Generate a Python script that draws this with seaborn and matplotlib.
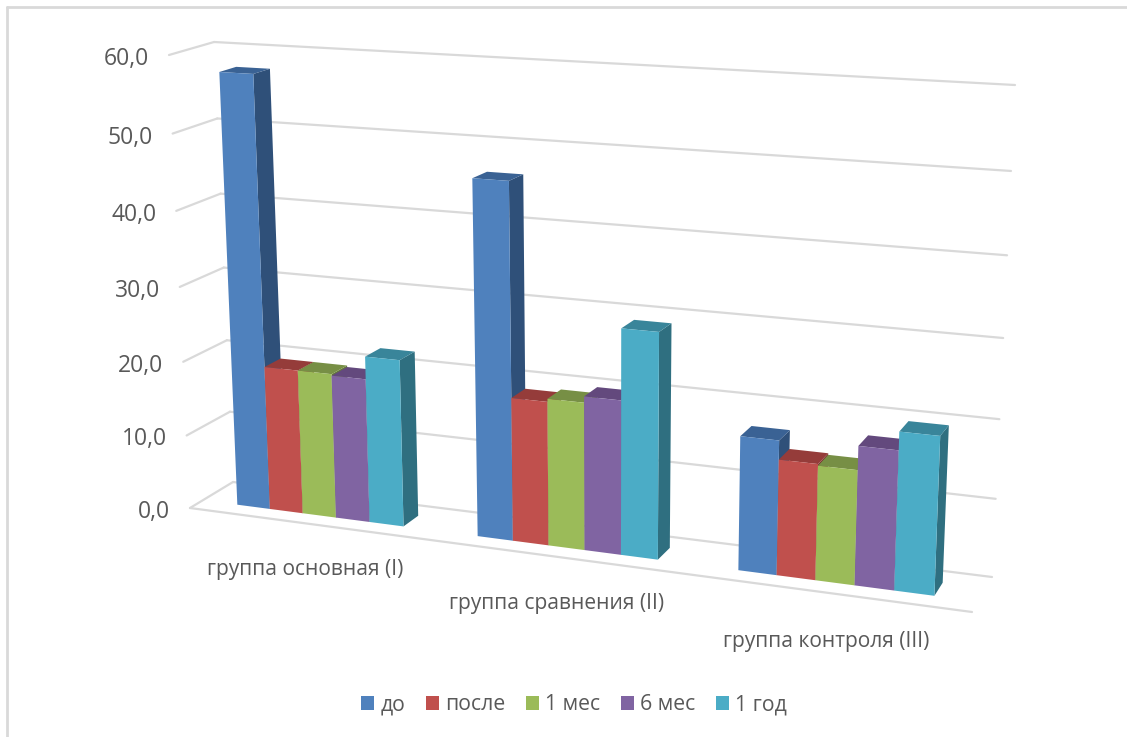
import numpy as np
import pandas as pd
import matplotlib
matplotlib.use("Agg")
import matplotlib.pyplot as plt
from matplotlib.lines import Line2D
from matplotlib.patches import Polygon, Rectangle
from matplotlib.transforms import Affine2D, Transform
import seaborn as sns

groups = ["группа основная (I)", "группа сравнения (II)", "группа контроля (III)"]
periods = ["до", "после", "1 мес", "6 мес", "1 год"]
values_do = [57.6, 46.3, 17.1]
values_posle = [19.4, 18.8, 14.7]
values_1m = [19.4, 19.2, 14.5]
values_6m = [19.2, 20.0, 17.5]
values_1y = [22.2, 29.1, 19.8]
yticks = [0, 10, 20, 30, 40, 50, 60]

front_colors = ["#4F81BD", "#C0504D", "#9BBB59", "#8064A2", "#4BACC6"]
side_colors = ["#2F5079", "#7C3230", "#64793A", "#523F69", "#2F6F80"]
top_colors = ["#3A6294", "#953C3A", "#778F45", "#63497D", "#39859A"]
GRID = "#D9D9D9"
TEXT = "#595959"
W, H = 1127, 737

plt.rcParams["font.family"] = ["Open Sans", "DejaVu Sans"]
sns.set_theme(style="white", rc={"font.family": ["Open Sans", "DejaVu Sans"]})

# Corner positions of the two box walls: (category axis start/end, value 0/60)
CORNERS_FRONT = [(190, 508), (972, 612), (169, 55), (992, 100)]
CORNERS_BACK = [(233, 482), (992, 577), (214, 42), (1015, 85)]
XSPAN = (-0.5, 2.5)
YSPAN = (0, 60)
BAR_FRONT, BAR_BACK = 0.30, 0.68


def homography(corners):
    src = [(XSPAN[0], YSPAN[0]), (XSPAN[1], YSPAN[0]), (XSPAN[0], YSPAN[1]), (XSPAN[1], YSPAN[1])]
    A, b = [], []
    for (x, y), (u, v) in zip(src, corners):
        A.append([x, y, 1, 0, 0, 0, -u * x, -u * y])
        A.append([0, 0, 0, x, y, 1, -v * x, -v * y])
        b += [u, v]
    return np.append(np.linalg.solve(np.array(A, float), np.array(b, float)), 1).reshape(3, 3)


HF, HB = homography(CORNERS_FRONT), homography(CORNERS_BACK)


def project(pts, depth):
    """Map (category, value) at a depth 0..1 inside the box to pixel positions."""
    pts = np.atleast_2d(pts)
    q = np.c_[pts, np.ones(len(pts))]
    f = q @ HF.T
    b = q @ HB.T
    f = f[:, :2] / f[:, 2:]
    b = b[:, :2] / b[:, 2:]
    return f + (b - f) * depth


class BoxTransform(Transform):
    input_dims = output_dims = 2
    is_separable = False
    has_inverse = False

    def __init__(self, wall_depth):
        super().__init__()
        self.wall_depth = wall_depth

    def transform_non_affine(self, values):
        return project(values, self.wall_depth)


fig = plt.figure(figsize=(W / 100, H / 100), dpi=100, facecolor="white")
ax = fig.add_axes([0, 0, 1, 1])

df = pd.DataFrame({
    "group": np.tile(groups, 5),
    "period": np.repeat(periods, 3),
    "value": values_do + values_posle + values_1m + values_6m + values_1y,
})
sns.barplot(data=df, x="group", y="value", hue="period", order=groups, hue_order=periods,
            palette=front_colors, width=0.70, saturation=1, errorbar=None, ax=ax, legend=True, zorder=5,
            linewidth=0)
ax.set_xlim(*XSPAN)
ax.set_ylim(*YSPAN)
ax.axis("off")

pixels = Affine2D().scale(1, -1).translate(0, H)
legend_handles = [Rectangle((0, 0), 1, 1, facecolor=c, edgecolor="none") for c in front_colors]
ax.get_legend().remove()


def to_display(depth):
    return BoxTransform(depth) + pixels


# Back wall grid, left wall ticks and the floor edge
for tick in yticks:
    for a, b in [(((XSPAN[0], tick), 1), ((XSPAN[1], tick), 1)),
                 (((XSPAN[0], tick), 0), ((XSPAN[0], tick), 1))]:
        p0 = project(a[0], a[1])[0]
        p1 = project(b[0], b[1])[0]
        ax.add_line(Line2D([p0[0], p1[0]], [p0[1], p1[1]], color=GRID, lw=1.6,
                           transform=pixels, clip_on=False, zorder=1))
    p = project((XSPAN[0], tick), 0)[0]
    ax.text(p[0] - 20, p[1] + 4, f"{tick:.1f}".replace(".", ","), transform=pixels, ha="right", va="center",
            fontsize=16.5, color=TEXT, clip_on=False)
p0, p1 = project((XSPAN[0], 0), 0)[0], project((XSPAN[1], 0), 0)[0]
ax.add_line(Line2D([p0[0], p1[0]], [p0[1], p1[1]], color=GRID, lw=1.6, transform=pixels, clip_on=False, zorder=1))

# Each bar gets its top and side faces from the same rectangle seaborn laid out
bars = sorted(
    [(rect.get_x(), rect, i) for i, cont in enumerate(ax.containers) for rect in cont],
    key=lambda r: r[0],
)
for order, (x0, rect, s) in enumerate(bars):
    x1, v = x0 + rect.get_width(), rect.get_height()
    z = 5 + order * 0.01
    fa, fb, ba, bb = (project((x0, v), BAR_FRONT)[0], project((x1, v), BAR_FRONT)[0],
                      project((x0, v), BAR_BACK)[0], project((x1, v), BAR_BACK)[0])
    f0, b0 = project((x1, 0), BAR_FRONT)[0], project((x1, 0), BAR_BACK)[0]
    ax.add_patch(Polygon([fb, bb, b0, f0], facecolor=side_colors[s], edgecolor="none",
                         transform=pixels, clip_on=False, zorder=z))
    ax.add_patch(Polygon([fa, fb, bb, ba], facecolor=top_colors[s], edgecolor="none",
                         transform=pixels, clip_on=False, zorder=z))
    rect.set_transform(to_display(BAR_FRONT))
    rect.set_clip_on(False)
    rect.set_zorder(z + 0.001)

# Category labels below the floor
label_pos = [(305, 570), (557, 604), (826, 641)]
for name, (lx, ly) in zip(groups, label_pos):
    ax.text(lx, ly, name, transform=pixels, ha="center", va="center", fontsize=15.1, color=TEXT)

fig.legend(legend_handles, periods, loc="center", bbox_to_anchor=(574 / W, 1 - 705 / H), ncol=5, frameon=False,
           fontsize=15.3, labelcolor=TEXT, handlelength=0.62, handleheight=0.62, handletextpad=0.3, columnspacing=0.95)

# Chart area border: only the left and top edges fall inside the frame
for xs, ys in [([7, 7], [7, H]), ([7, W], [7, 7])]:
    ax.add_line(Line2D(xs, ys, color=GRID, lw=2, transform=pixels, clip_on=False, zorder=0))

fig.savefig("out.png", dpi=100)
